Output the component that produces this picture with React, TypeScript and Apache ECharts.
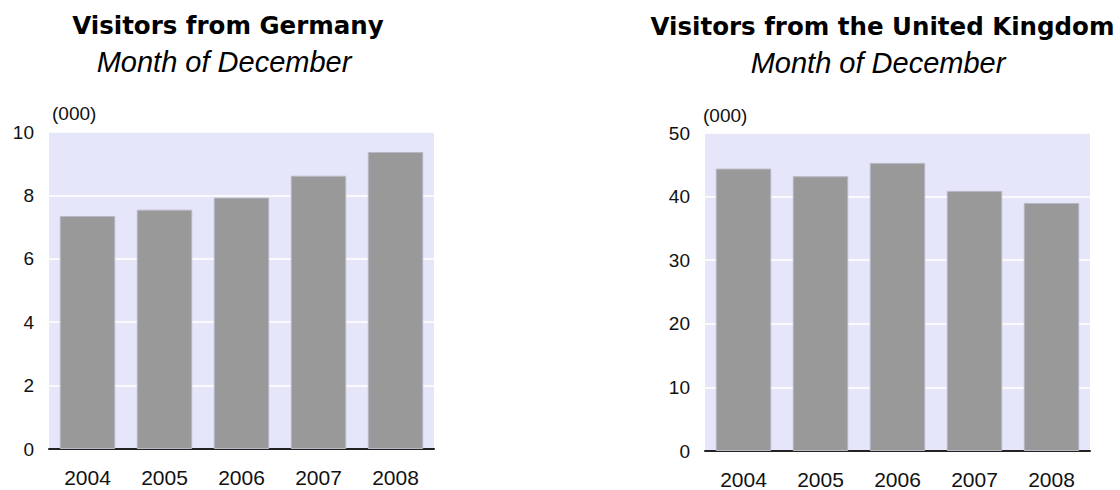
import React, { useEffect, useRef } from "react";
import * as echarts from "echarts";

const years = ["2004", "2005", "2006", "2007", "2008"];
const germanyValues = [7.35, 7.55, 7.93, 8.62, 9.37];
const ukValues = [44.4, 43.2, 45.3, 40.9, 39.0];
const titles = ["Visitors from Germany", "Visitors from the United Kingdom"];
const subtitle = "Month of December";
const unitLabel = "(000)";

export default function App() {
  const ref = useRef<HTMLDivElement>(null);
  useEffect(() => {
    if (!ref.current) return;
    const chart = echarts.init(ref.current, undefined, { renderer: "svg" });
    const labelFont = "'Liberation Sans', Arial, sans-serif";
    const yAxisBase = (max: number, interval: number, gi: number) => ({
      type: "value",
      gridIndex: gi,
      min: 0,
      max,
      interval,
      axisLine: { show: false },
      axisTick: { show: false },
      axisLabel: { color: "#111", fontSize: 19, fontFamily: labelFont, margin: 15 },
      splitLine: { show: true, lineStyle: { color: "#ffffff", width: 1.5 } },
    });
    const xAxisBase = (gi: number) => ({
      type: "category",
      gridIndex: gi,
      data: years,
      axisLine: { show: true, lineStyle: { color: "#222", width: 2 } },
      axisTick: { show: false },
      axisLabel: { color: "#111", fontSize: 21, fontFamily: labelFont, margin: 18 },
    });
    const barSeries = (data: number[], gi: number) => ({
      type: "bar",
      xAxisIndex: gi,
      yAxisIndex: gi,
      data,
      barCategoryGap: "28%",
      itemStyle: { color: "#999999", borderColor: "#b8b8c4", borderWidth: 1 },
    });
    const titleText = (text: string, x: number, y: number) => ({
      type: "text",
      x,
      y,
      style: {
        text,
        fill: "#000",
        font: "bold 24.5px 'DejaVu Sans', Verdana, sans-serif",
        align: "center",
        verticalAlign: "middle",
      },
    });
    const subText = (x: number, y: number) => ({
      type: "text",
      x,
      y,
      style: {
        text: subtitle,
        fill: "#000",
        font: "italic 29px 'Liberation Sans', Arial, sans-serif",
        align: "center",
        verticalAlign: "middle",
      },
    });
    const unitText = (x: number, y: number) => ({
      type: "text",
      x,
      y,
      style: {
        text: unitLabel,
        fill: "#111",
        font: "19px 'Liberation Sans', Arial, sans-serif",
        align: "left",
        verticalAlign: "middle",
      },
    });
    chart.setOption({
      animation: false,
      backgroundColor: "#ffffff",
      grid: [
        { left: 49, top: 132, width: 385, height: 317, show: true, backgroundColor: "#e6e6fa", borderWidth: 0 },
        { left: 705, top: 133, width: 385, height: 318, show: true, backgroundColor: "#e6e6fa", borderWidth: 0 },
      ],
      xAxis: [xAxisBase(0), xAxisBase(1)],
      yAxis: [yAxisBase(10, 2, 0), yAxisBase(50, 10, 1)],
      series: [barSeries(germanyValues, 0), barSeries(ukValues, 1)],
      graphic: [
        titleText(titles[0], 228, 25.5),
        subText(224, 62),
        unitText(52, 113),
        titleText(titles[1], 882.5, 26),
        subText(878, 63),
        unitText(703, 115),
      ],
    });
    return () => chart.dispose();
  }, []);
  return (
    <div
      ref={ref}
      style={{ position: "fixed", left: 0, top: 0, width: 1120, height: 490, background: "#fff" }}
    />
  );
}
